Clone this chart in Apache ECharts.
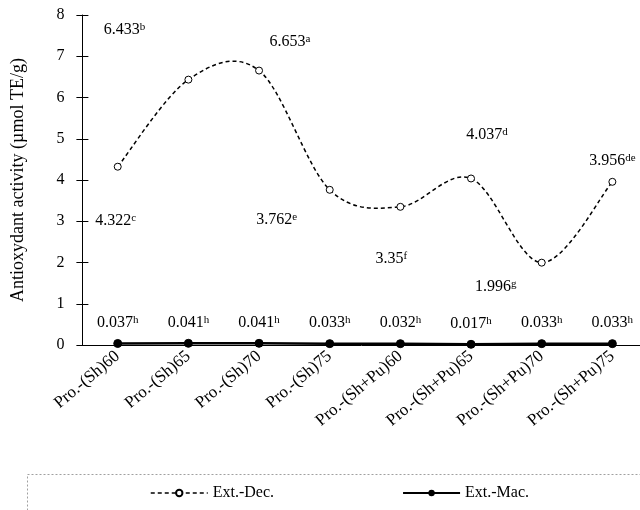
<!DOCTYPE html>
<html>
<head>
<meta charset="utf-8">
<script src="https://cdn.jsdelivr.net/npm/echarts@6/dist/echarts.min.js"></script>
<style>
  html, body { margin: 0; padding: 0; background: #fff; overflow: hidden; }
  #chart { width: 640px; height: 510px; }
</style>
</head>
<body>
<div id="chart"></div>
<script>
const categories = ["Pro.-(Sh)60", "Pro.-(Sh)65", "Pro.-(Sh)70", "Pro.-(Sh)75",
  "Pro.-(Sh+Pu)60", "Pro.-(Sh+Pu)65", "Pro.-(Sh+Pu)70", "Pro.-(Sh+Pu)75"];
const decValues = [4.322, 6.433, 6.653, 3.762, 3.35, 4.037, 1.996, 3.956];
const decLetters = ["c", "b", "a", "e", "f", "d", "g", "de"];
const macValues = [0.037, 0.041, 0.041, 0.033, 0.032, 0.017, 0.033, 0.033];
const macLetters = ["h", "h", "h", "h", "h", "h", "h", "h"];
const yTicks = { min: 0, max: 8, interval: 1 };

// label placement, dragged by hand in the original
const decLabelOffsets = [[-2, 54], [-64, -50], [31, -29], [-53, 30], [-9, 52], [16, -44], [-46, 24], [0, -21]];
const macLabelOffset = [0, -21];

const FONT = "'Liberation Serif', 'Times New Roman', serif";
const FS = 16;
const rich = {
  v: { fontSize: FS, fontFamily: FONT, color: "#000" },
  s: { fontSize: 11, fontFamily: FONT, color: "#000", verticalAlign: "top", padding: [0, 0, 5, 0] }
};
const labelFmt = (p) => `{v|${p.value}}{s|${p.data.letter}}`;

function buildData(values, letters, offsets) {
  return values.map((v, i) => ({
    value: v,
    letter: letters[i],
    label: { offset: Array.isArray(offsets[0]) ? offsets[i] : offsets }
  }));
}

// Excel style smoothed line (Catmull-Rom, 1/6 tangents)
function smoothPath(params, api) {
  if (params.dataIndex !== 0) return null;
  const pts = decValues.map((v, i) => api.coord([i, v]));
  let d = `M${pts[0][0]},${pts[0][1]}`;
  for (let i = 0; i < pts.length - 1; i++) {
    const p0 = pts[Math.max(i - 1, 0)], p1 = pts[i], p2 = pts[i + 1], p3 = pts[Math.min(i + 2, pts.length - 1)];
    const c1 = [p1[0] + (p2[0] - p0[0]) / 6, p1[1] + (p2[1] - p0[1]) / 6];
    const c2 = [p2[0] - (p3[0] - p1[0]) / 6, p2[1] - (p3[1] - p1[1]) / 6];
    d += ` C${c1[0]},${c1[1]} ${c2[0]},${c2[1]} ${p2[0]},${p2[1]}`;
  }
  return {
    type: "path", silent: true,
    shape: { pathData: d },
    style: { fill: "none", stroke: "#000", lineWidth: 1.5, lineDash: [4, 3] }
  };
}

const chart = echarts.init(document.getElementById("chart"));
chart.setOption({
  animation: false,
  backgroundColor: "#fff",
  grid: { left: 82.4, top: 15, width: 565.3, height: 330, outerBoundsMode: "none" },
  graphic: [{
    type: "rect", left: 25, top: 472, silent: true,
    shape: { width: 620, height: 60 },
    style: { fill: "none", stroke: "#a0a0a0", lineWidth: 1, lineDash: [2, 2] }
  }],
  legend: {
    left: 145, top: 480, itemWidth: 57, itemHeight: 8, itemGap: 128,
    textStyle: { fontSize: FS, fontFamily: FONT, color: "#000" },
    data: [
      { name: "Ext.-Dec.", lineStyle: { color: "#000", width: 1.5, type: [4, 3], opacity: 1 } },
      { name: "Ext.-Mac." }
    ]
  },
  xAxis: [{
    type: "category", data: categories,
    axisLine: { lineStyle: { color: "#000", width: 1 } },
    axisTick: { length: 5, lineStyle: { color: "#000" } },
    axisLabel: { rotate: 40, margin: 9, fontSize: 17, fontFamily: FONT, color: "#000", interval: 0 }
  }, {
    type: "category", data: categories, position: "bottom",
    axisLine: { show: false },
    axisTick: { inside: true, length: 5, lineStyle: { color: "#000" } },
    axisLabel: { show: false }
  }],
  yAxis: [{
    type: "value", min: yTicks.min, max: yTicks.max, interval: yTicks.interval,
    name: "Antioxydant activity (\u00b5mol TE/g)", nameLocation: "middle", nameGap: 55,
    nameTextStyle: { fontSize: 18, fontFamily: FONT, color: "#000" },
    axisLine: { show: true, lineStyle: { color: "#000", width: 1 } },
    axisTick: { show: true, length: 6, lineStyle: { color: "#000" } },
    axisLabel: { margin: 18, fontSize: FS, fontFamily: FONT, color: "#000" },
    splitLine: { show: false }
  }, {
    type: "value", min: yTicks.min, max: yTicks.max, interval: yTicks.interval, position: "left",
    axisLine: { show: false },
    axisTick: { show: true, inside: true, length: 6, lineStyle: { color: "#000" } },
    axisLabel: { show: false }, splitLine: { show: false }
  }],
  series: [{
    name: "Ext.-Dec.", type: "line",
    data: buildData(decValues, decLetters, decLabelOffsets),
    symbol: "circle", symbolSize: 7,
    itemStyle: { color: "#fff", borderColor: "#000", borderWidth: 1 },
    lineStyle: { opacity: 0 },
    label: { show: true, position: "inside", formatter: labelFmt, rich },
    z: 4
  }, {
    name: "Ext.-Dec.curve", type: "custom",
    data: decValues.map((v, i) => [i, v]),
    renderItem: smoothPath,
    z: 3
  }, {
    name: "Ext.-Mac.", type: "line",
    data: buildData(macValues, macLetters, macLabelOffset),
    symbol: "circle", symbolSize: 8,
    itemStyle: { color: "#000", borderColor: "#000" },
    lineStyle: { color: "#000", width: 2.5 },
    label: { show: true, position: "inside", formatter: labelFmt, rich },
    z: 2
  }]
});
</script>
</body>
</html>
